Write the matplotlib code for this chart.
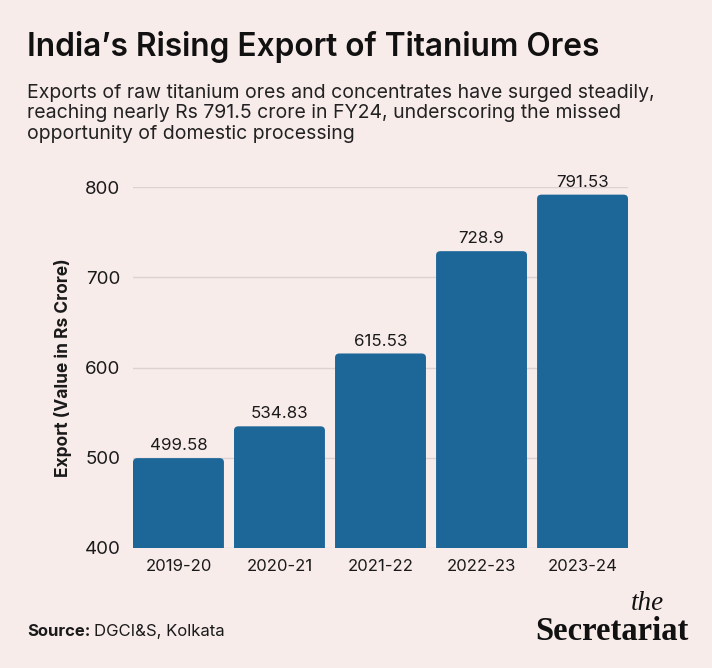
import matplotlib
matplotlib.use("Agg")
import matplotlib.pyplot as plt
from matplotlib.patches import FancyBboxPatch

# data
years = ["2019-20", "2020-21", "2021-22", "2022-23", "2023-24"]
exports = [499.58, 534.83, 615.53, 728.9, 791.53]
value_labels = ["499.58", "534.83", "615.53", "728.9", "791.53"]
yticks = [400, 500, 600, 700, 800]

subtitle_lines = [
    "Exports of raw titanium ores and concentrates have surged steadily,",
    "reaching nearly Rs 791.5 crore in FY24, underscoring the missed",
    "opportunity of domestic processing",
]

BG = "#f8eceb"
BAR = "#1c6698"
GRID = "#dcd2d1"
TXT = "#1a1a1a"

plt.rcParams['font.family'] = ['Inter', 'DejaVu Sans']

W, H = 712, 668
fig = plt.figure(figsize=(W / 100, H / 100), dpi=100, facecolor=BG)
ax = fig.add_axes([133 / W, 1 - 548 / H, 495 / W, 361 / H])
ax.set_facecolor(BG)

bars = ax.bar(range(len(years)), exports, width=0.9, color=BAR, zorder=2)

# swap plain bars for ones with slightly rounded tops
for b in bars:
    x, w, h = b.get_x(), b.get_width(), b.get_height()
    b.set_visible(False)
    rb = FancyBboxPatch((x, 0), w, h, boxstyle="round,pad=0,rounding_size=0.045",
                        mutation_aspect=100, facecolor=BAR, edgecolor="none", zorder=2)
    ax.add_patch(rb)

for i, (v, lab) in enumerate(zip(exports, value_labels)):
    ax.text(i, v + 5.5, lab, ha="center", va="bottom", fontsize=12.2, color=TXT, clip_on=False)

ax.set_xlim(-0.45, len(years) - 0.55)
ax.set_ylim(400, 800)
ax.set_yticks(yticks)
ax.set_yticklabels([str(t) for t in yticks], fontsize=13.5, color=TXT)
ax.set_xticks(range(len(years)))
ax.set_xticklabels(years, fontsize=12, color=TXT)
ax.tick_params(axis="both", length=0)
ax.tick_params(axis="y", pad=9)
ax.tick_params(axis="x", pad=8)
ax.grid(axis="y", color=GRID, linewidth=1, zorder=0)
for s in ax.spines.values():
    s.set_visible(False)

ax.set_ylabel("Export (Value in Rs Crore)", fontsize=12.5, fontweight="bold", color=TXT, labelpad=9)

fig.text(27 / W, 1 - 56 / H, "India\u2019s Rising Export of Titanium Ores", fontsize=22.8,
         fontweight="semibold", color="#111111", ha="left", va="baseline")
for k, line in enumerate(subtitle_lines):
    fig.text(27 / W, 1 - (98 + 20.5 * k) / H, line, fontsize=14, color="#222222",
             ha="left", va="baseline")

# source line: bold prefix, then the rest right after it
src = fig.text(27 / W, 1 - 636 / H, "Source:", fontsize=12, fontweight="bold", color=TXT,
               ha="left", va="baseline")
fig.canvas.draw()
bb = src.get_window_extent()
fig.text((bb.x1 + 4) / W, 1 - 636 / H, "DGCI&S, Kolkata", fontsize=12, color=TXT,
         ha="left", va="baseline")

# logo, stacked tight like the original
fig.text(664 / W, 1 - 610 / H, "the", fontsize=19.5, fontstyle="italic", family="Liberation Serif",
         color="#111111", ha="right", va="baseline")
fig.text(689 / W, 1 - 640 / H, "Secretariat", fontsize=23.5, fontweight="bold", family="Liberation Serif",
         color="#111111", ha="right", va="baseline")

fig.savefig("out.png", dpi=100, facecolor=BG)
